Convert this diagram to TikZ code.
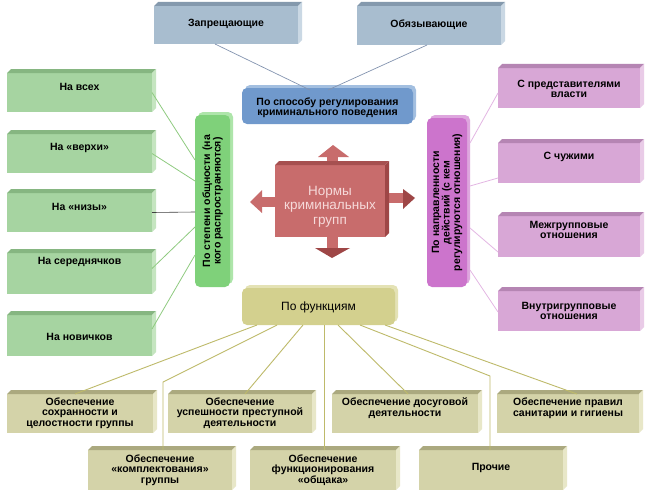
\documentclass[tikz,border=0pt]{standalone}
\usepackage{fontspec}
\setmainfont{Liberation Sans}
\usetikzlibrary{shadows}
\definecolor{zapfront}{HTML}{A8BDCF}
\definecolor{zaptop}{HTML}{8499AD}
\definecolor{zapside}{HTML}{CAD8E4}
\definecolor{bluefront}{HTML}{7099CC}
\definecolor{blueback}{HTML}{A3BFE0}
\definecolor{gfront}{HTML}{A6D4A1}
\definecolor{gtop}{HTML}{86B681}
\definecolor{gside}{HTML}{C5E5C0}
\definecolor{gvfront}{HTML}{7FD17A}
\definecolor{gvback}{HTML}{AEE5AA}
\definecolor{pvfront}{HTML}{CC74CC}
\definecolor{pvback}{HTML}{DEA6DE}
\definecolor{pfront}{HTML}{D8A7D6}
\definecolor{ptop}{HTML}{B585B3}
\definecolor{pside}{HTML}{E9CBE7}
\definecolor{fnfront}{HTML}{D3D08E}
\definecolor{fnback}{HTML}{E4E2B5}
\definecolor{ofront}{HTML}{D4D3A9}
\definecolor{otop}{HTML}{ABA97F}
\definecolor{oside}{HTML}{E8E7C8}
\definecolor{ncfront}{HTML}{C86C6C}
\definecolor{nctop}{HTML}{A65050}
\definecolor{ncside}{HTML}{9E4646}
\definecolor{nctext}{HTML}{F6DADA}
\definecolor{topline}{HTML}{8494B0}
\definecolor{gline}{HTML}{8FCB80}
\definecolor{pline}{HTML}{E3B6E3}
\definecolor{oline}{HTML}{BEBA6A}
\newcommand\boxfaces[3]{%
  \fill[#2] (#1.north west) -- ++(4,-4) -- ([shift={(4,-4)}]#1.north east) -- (#1.north east) -- cycle;
  \fill[#3] (#1.north east) -- ++(4,-4) -- ([shift={(4,-4)}]#1.south east) -- (#1.south east) -- cycle;}
\begin{document}
\begin{tikzpicture}[x=1pt,y=-1pt,
  txt/.style={font=\bfseries\fontsize{10.5}{10.5}\selectfont, align=center, inner sep=0pt, text=black},
  fbox/.style={anchor=north west, inner sep=0pt, outer sep=0pt},
  rbox/.style={anchor=north west, inner sep=0pt, outer sep=0pt, rounded corners=5pt},
  backsh/.style={general shadow={fill=#1, shadow xshift=3pt, shadow yshift=3pt}},
  tline/.style={draw=topline, line width=0.7pt},
  gl/.style={draw=gline, line width=0.8pt},
  pl/.style={draw=pline, line width=0.8pt},
  ol/.style={draw=oline, line width=0.9pt},
]
\useasboundingbox (0,0) rectangle (650,495);
\fill[white] (0,0) rectangle (650,495);

% top boxes
\node[fbox, fill=zapfront, minimum width=144, minimum height=38] (zap) at (154,6) {};
\boxfaces{zap}{zaptop}{zapside}
\node[txt] (zapt) at (226,24) {Запрещающие};
\node[fbox, fill=zapfront, minimum width=144, minimum height=39] (obz) at (357,6) {};
\boxfaces{obz}{zaptop}{zapside}
\node[txt] (obzt) at (429,25) {Обязывающие};

% blue box
\node[rbox, fill=bluefront, backsh=blueback, minimum width=171, minimum height=36] (bl) at (242,88) {};
\node[txt] (blt) at (327.5,107.5) {По способу регулирования\\криминального поведения};

% green left boxes
\foreach \n/\y/\h in {g1/73/39, g2/134/39, g3/193/39, g4/253/41, g5/315/41}{
  \node[fbox, fill=gfront, minimum width=145, minimum height=\h] (\n) at (7,\y) {};
  \boxfaces{\n}{gtop}{gside}
}
\node[txt] (g1t) at (79.5,87) {На всех};
\node[txt] (g2t) at (79.5,148) {На «верхи»};
\node[txt] (g3t) at (79.5,207) {На «низы»};
\node[txt] (g4t) at (79.5,262) {На середнячков};
\node[txt] (g5t) at (79.5,337) {На новичков};

% green vertical
\node[rbox, fill=gvfront, backsh=gvback, minimum width=35, minimum height=172] (gv) at (195,115) {};
\node[txt, rotate=90] (gvt) at (212.5,201) {По степени общности (на\\кого распространяются)};

% pink right boxes
\foreach \n/\y/\h in {p1/68/40, p2/143/40, p3/216/41, p4/291/40}{
  \node[fbox, fill=pfront, minimum width=142, minimum height=\h] (\n) at (498,\y) {};
  \boxfaces{\n}{ptop}{pside}
}
\node[txt] (p1t) at (569,89) {С представителями\\власти};
\node[txt] (p2t) at (569,157) {С чужими};
\node[txt] (p3t) at (569,230) {Межгрупповые\\отношения};
\node[txt] (p4t) at (569,311) {Внутригрупповые\\отношения};

% pink vertical
\node[rbox, fill=pvfront, backsh=pvback, minimum width=40, minimum height=169] (pv) at (427,118) {};
\node[txt, rotate=90] (pvt) at (447,202.5) {По направленности\\действий (с кем\\регулируются отношения)};

% center
\fill[ncfront] (262,197) rectangle (275,207);
\fill[ncfront] (262,190) -- (250,202) -- (262,213) -- cycle;
\fill[ncfront] (385,193) rectangle (403,203);
\fill[ncside] (403,189) -- (415,198) -- (403,209) -- cycle;
\fill[ncfront] (327,157) rectangle (338,165);
\fill[ncfront] (318,157) -- (333,145) -- (349,157) -- cycle;
\fill[ncfront] (327,237) rectangle (338,248);
\fill[ncside] (315,248) -- (350,248) -- (332,258) -- cycle;
\node[fbox, fill=ncfront, minimum width=110, minimum height=72] (nc) at (275,165) {};
\boxfaces{nc}{nctop}{ncside}
\node[font=\fontsize{13.5}{14.5}\selectfont, align=center, text=nctext, inner sep=0pt] (nct) at (330,206.5) {Нормы\\криминальных\\групп};

% functions
\node[rbox, fill=fnfront, backsh=fnback, minimum width=153, minimum height=37] (fn) at (242,288) {};
\node[font=\fontsize{12}{12}\selectfont, inner sep=0pt] (fnt) at (318.5,307) {По функциям};

% olive boxes
\foreach \n/\x/\y/\w/\h in {o1/7/394/146/39, o2/168/394/144/39, o3/332/394/146/39, o4/497/394/142/39, o5/88/450/144/40, o6/250/450/146/40, o7/419/450/144/40}{
  \node[fbox, fill=ofront, minimum width=\w, minimum height=\h] (\n) at (\x,\y) {};
  \boxfaces{\n}{otop}{oside}
}
\node[txt] (o1t) at (80,413) {Обеспечение\\сохранности и\\целостности группы};
\node[txt] (o2t) at (240,413) {Обеспечение\\успешности преступной\\деятельности};
\node[txt] (o3t) at (405,408) {Обеспечение досуговой\\деятельности};
\node[txt] (o4t) at (568,408) {Обеспечение правил\\санитарии и гигиены};
\node[txt] (o5t) at (160,470) {Обеспечение\\«комплектования»\\группы};
\node[txt] (o6t) at (323,470) {Обеспечение\\функционирования\\«общака»};
\node[txt] (o7t) at (491,468) {Прочие};

% connectors top
\draw[tline] ([xshift=-11pt]zap.south) -- ([xshift=-17.5pt,yshift=-2pt]bl.north);
\draw[tline] ([xshift=-2pt]obz.south) -- ([xshift=0.5pt,yshift=-2pt]bl.north);

% connectors green
\draw[gl] (g1.east) -- ([yshift=41pt]gv.west);
\draw[gl] (g2.east) -- ([yshift=20pt]gv.west);
\draw[draw=black!75, line width=0.6pt] (g3.east) -- ([yshift=-11pt]gv.west);
\draw[gl] ([yshift=5pt]g4.east) -- ([yshift=-26pt]gv.west);
\draw[gl] ([yshift=6.5pt]g5.east) -- ([yshift=-54pt]gv.west);

% connectors pink
\draw[pl] ([xshift=3pt,yshift=59.5pt]pv.east) -- ([yshift=-5pt]p1.west);
\draw[pl] ([xshift=3pt,yshift=16.5pt]pv.east) -- ([yshift=-15pt]p2.west);
\draw[pl] ([xshift=3pt,yshift=-25.5pt]pv.east) -- ([yshift=-15.5pt]p3.west);
\draw[pl] ([xshift=3pt,yshift=-67.5pt]pv.east) -- ([yshift=-1pt]p4.west);

% connectors olive
\coordinate (k5) at (163,382);
\coordinate (k7) at (490,376);
\draw[ol] ([xshift=-61.5pt]fn.south) -- ([xshift=-5pt]o1.north);
\draw[ol] ([xshift=-41.5pt]fn.south) -- (k5) -- ([xshift=3pt]o5.north);
\draw[ol] ([xshift=-15.5pt]fn.south) -- ([xshift=5pt]o2.north);
\draw[ol] ([xshift=5.5pt]fn.south) -- ([xshift=1pt]o6.north);
\draw[ol] ([xshift=19.5pt]fn.south) -- ([xshift=3pt]o3.north);
\draw[ol] ([xshift=41.5pt]fn.south) -- (k7) -- ([xshift=-1pt]o7.north);
\draw[ol] ([xshift=66.5pt]fn.south) -- ([xshift=9pt]o4.north);
\end{tikzpicture}
\end{document}
